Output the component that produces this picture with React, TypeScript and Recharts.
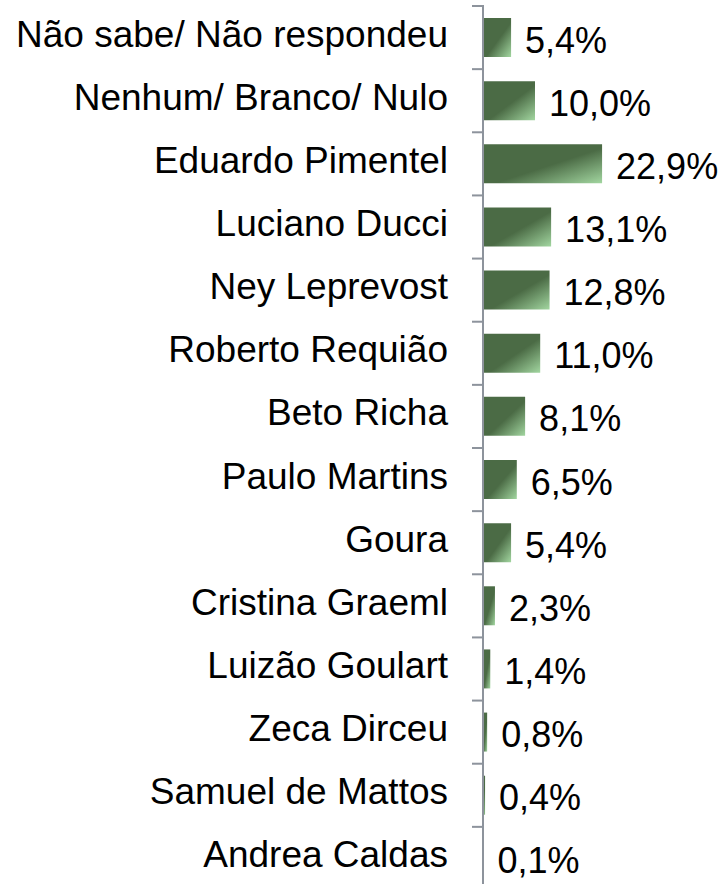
import { BarChart, Bar, XAxis, YAxis, LabelList } from "recharts";

const categories = [
    "Não sabe/ Não respondeu",
    "Nenhum/ Branco/ Nulo",
    "Eduardo Pimentel",
    "Luciano Ducci",
    "Ney Leprevost",
    "Roberto Requião",
    "Beto Richa",
    "Paulo Martins",
    "Goura",
    "Cristina Graeml",
    "Luizão Goulart",
    "Zeca Dirceu",
    "Samuel de Mattos",
    "Andrea Caldas",
];

const values = [5.4, 10.0, 22.9, 13.1, 12.8, 11.0, 8.1, 6.5, 5.4, 2.3, 1.4, 0.8, 0.4, 0.1];

const xDomain = [0, 25];

const data = categories.map((name, i) => ({ name, value: values[i] }));

const WIDTH = 725;
const HEIGHT = 890;
const TOP = 6;
const BOTTOM = 0;
const AXIS_W = 483;
const RIGHT = 112;
const BAND = (HEIGHT - TOP - BOTTOM) / categories.length;
const FONT = '"Liberation Sans", Arial, sans-serif';

const fmt = (v: number) => v.toFixed(1).replace(".", ",") + "%";

// tick marks sit on the band boundaries, like the source chart
function CategoryTick(props: any) {
    const { x, y, payload } = props;
    const top = y - BAND / 2;
    return (
        <g>
            <rect x={x - 3} y={top - 1} width={12} height={2} fill="#8d939c" />
            <text
                x={AXIS_W - 35}
                y={y + 9}
                textAnchor="end"
                fontSize={37}
                fontFamily={FONT}
                fill="#000"
            >
                {payload.value}
            </text>
        </g>
    );
}

function ValueLabel(props: any) {
    const { x, y, width, height, value } = props;
    return (
        <text
            x={x + width + 14}
            y={y + height / 2 + 15}
            textAnchor="start"
            fontSize={36}
            fontFamily={FONT}
            fill="#000"
        >
            {fmt(value)}
        </text>
    );
}

export default function App() {
    return (
        <div
            style={{
                position: "absolute",
                left: 0,
                top: 0,
                width: WIDTH,
                height: 884,
                overflow: "hidden",
                background: "#fff",
            }}
        >
            <BarChart
                width={WIDTH}
                height={HEIGHT}
                data={data}
                layout="vertical"
                margin={{ top: TOP, right: RIGHT, left: 0, bottom: BOTTOM }}
            >
                <defs>
                    <linearGradient id="barGrad" x1="0" y1="0" x2="1" y2="1">
                        <stop offset="0%" stopColor="#4b6b45" />
                        <stop offset="55%" stopColor="#4b6b45" />
                        <stop offset="100%" stopColor="#a2d6a0" />
                    </linearGradient>
                </defs>
                <XAxis type="number" domain={xDomain} hide />
                <YAxis
                    type="category"
                    dataKey="name"
                    width={AXIS_W}
                    axisLine={{ stroke: "#8d939c", strokeWidth: 2 }}
                    tickLine={false}
                    tick={<CategoryTick />}
                    interval={0}
                />
                <Bar dataKey="value" fill="url(#barGrad)" barSize={39} isAnimationActive={false}>
                    <LabelList dataKey="value" content={<ValueLabel />} />
                </Bar>
            </BarChart>
        </div>
    );
}
